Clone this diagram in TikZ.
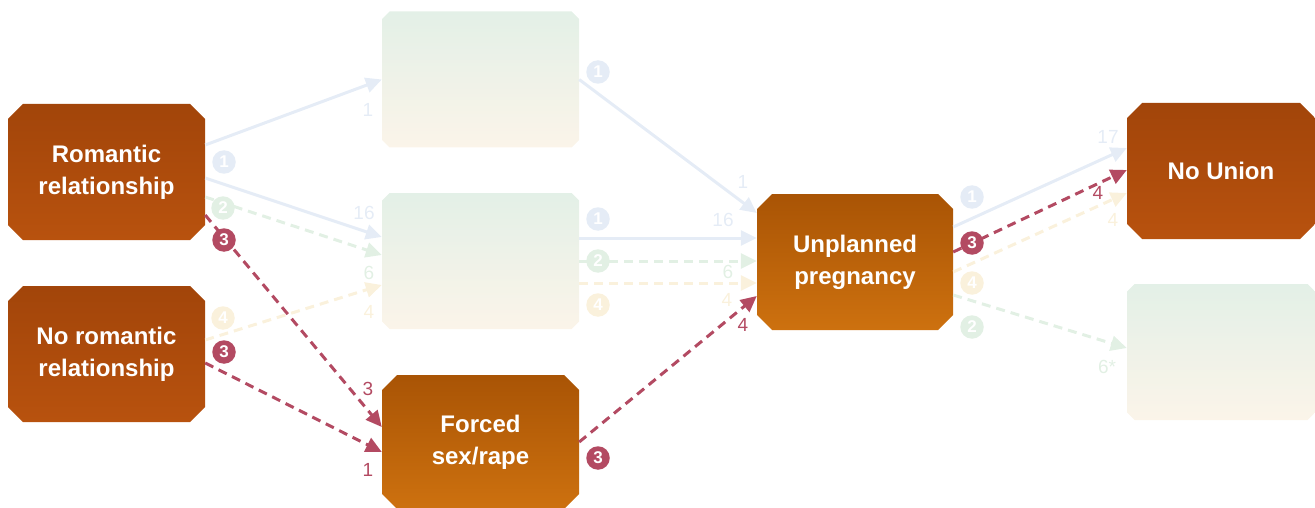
\documentclass[tikz,border=0pt]{standalone}
\usepackage{fontspec}
\setmainfont{Liberation Sans}
\usetikzlibrary{shapes.misc,arrows.meta}

\definecolor{rosy}{HTML}{B34A62}
\definecolor{paleblue}{HTML}{E5ECF6}
\definecolor{palegreen}{HTML}{E2F0E4}
\definecolor{palecream}{HTML}{FAF1DC}
\definecolor{rusttop}{HTML}{A2450A}
\definecolor{rustbot}{HTML}{B8520E}
\definecolor{ambertop}{HTML}{A95405}
\definecolor{amberbot}{HTML}{CD710F}
\definecolor{mintop}{HTML}{E3F0E7}
\definecolor{minbot}{HTML}{FBF4E9}

\begin{document}
\begin{tikzpicture}[x=1pt,y=-1pt]
\tikzstyle{every node}=[inner sep=0pt,font=\fontsize{19}{22}\selectfont]
\tikzstyle{box}=[chamfered rectangle,chamfered rectangle xsep=7.5pt,chamfered rectangle ysep=7.5pt,
  minimum width=197pt,minimum height=136pt,align=center,text=white,
  font=\fontsize{24}{32}\selectfont\bfseries]
\tikzstyle{rust}=[box,top color=rusttop,bottom color=rustbot]
\tikzstyle{amber}=[box,top color=ambertop,bottom color=amberbot]
\tikzstyle{faded}=[box,top color=mintop,bottom color=minbot]
\tikzstyle{badge}=[circle,minimum size=23.5pt,text=white,font=\fontsize{17}{17}\selectfont\bfseries]
\tikzstyle{link}=[line width=3pt,-{Triangle[length=16pt,width=15pt]}]
\tikzstyle{dashlink}=[link,dash pattern=on 9pt off 6pt]
\useasboundingbox (0,0) rectangle (1315,508);

\node [rust] (rom) at (106.5,172) {Romantic\\relationship};
\node [rust] (norom) at (106.5,354) {No romantic\\relationship};
\node [faded] (ftop) at (480.5,79.5) {\strut};
\node [faded] (fmid) at (480.5,261) {\strut};
\node [amber,minimum height=134pt] (forced) at (480.5,442) {Forced\\sex/rape};
\node [amber,minimum width=196pt] (unpl) at (855,262) {Unplanned\\pregnancy};
\node [rust,minimum width=188pt] (nounion) at (1221,171) {No Union};
\node [faded,minimum width=188pt] (fbr) at (1221,352) {\strut};

\draw [link,paleblue] ([yshift=27pt]rom.east) -- (ftop.west);
\draw [link,paleblue] ([yshift=-6pt]rom.east) -- ([yshift=24pt]fmid.west);
\draw [dashlink,palegreen] ([yshift=-25pt]rom.east) -- ([yshift=6pt]fmid.west);
\draw [dashlink,palecream] ([yshift=14pt]norom.east) -- ([yshift=-24pt]fmid.west);
\draw [link,paleblue] (ftop.east) -- ([yshift=49pt]unpl.west);
\draw [link,paleblue] ([yshift=23pt]fmid.east) -- ([yshift=24pt]unpl.west);
\draw [dashlink,palegreen] (fmid.east) -- ([yshift=1pt]unpl.west);
\draw [dashlink,palecream] ([yshift=-22pt]fmid.east) -- ([yshift=-21pt]unpl.west);
\draw [link,paleblue] ([yshift=35pt]unpl.east) -- ([yshift=23pt]nounion.west);
\draw [dashlink,palecream] ([yshift=-10pt]unpl.east) -- ([yshift=-22pt]nounion.west);
\draw [dashlink,palegreen] ([yshift=-33pt]unpl.east) -- ([yshift=4pt]fbr.west);
\draw [dashlink,rosy] ([yshift=-43pt]rom.east) -- ([yshift=15pt]forced.west);
\draw [dashlink,rosy] ([yshift=-9pt]norom.east) -- ([yshift=-10pt]forced.west);
\draw [dashlink,rosy] (forced.east) -- ([yshift=-34pt]unpl.west);
\draw [dashlink,rosy] ([yshift=10pt]unpl.east) -- ([yshift=1pt]nounion.west);

\node [badge,fill=paleblue] (b1) at (224,162) {1};
\node [badge,fill=palegreen] (b2) at (223,208) {2};
\node [badge,fill=rosy] (b3) at (224,240) {3};
\node [badge,fill=palecream] (b4) at (223,318) {4};
\node [badge,fill=rosy] (b5) at (224,352) {3};
\node [badge,fill=paleblue] (b6) at (598,72) {1};
\node [badge,fill=paleblue] (b7) at (598,219) {1};
\node [badge,fill=palegreen] (b8) at (598,261) {2};
\node [badge,fill=palecream] (b9) at (598,305) {4};
\node [badge,fill=rosy] (b10) at (598,458) {3};
\node [badge,fill=paleblue] (b11) at (972,197) {1};
\node [badge,fill=rosy] (b12) at (972,243) {3};
\node [badge,fill=palecream] (b13) at (972,283) {4};
\node [badge,fill=palegreen] (b14) at (972,327) {2};

\node [paleblue] (l1) at (368,110) {1};
\node [paleblue] (l2) at (364,213) {16};
\node [palegreen] (l3) at (369,273) {6};
\node [rosy] (l4) at (368,389) {3};
\node [palecream] (l5) at (369,312) {4};
\node [rosy] (l6) at (368,470) {1};
\node [paleblue] (l7) at (743,182) {1};
\node [paleblue] (l8) at (723,220) {16};
\node [palegreen] (l9) at (728,272) {6};
\node [palecream] (l10) at (727,300) {4};
\node [rosy] (l11) at (743,325) {4};
\node [paleblue] (l12) at (1108,137) {17};
\node [rosy] (l13) at (1098,193) {4};
\node [palecream] (l14) at (1113,220) {4};
\node [palegreen] (l15) at (1107,367) {6*};
\end{tikzpicture}
\end{document}
